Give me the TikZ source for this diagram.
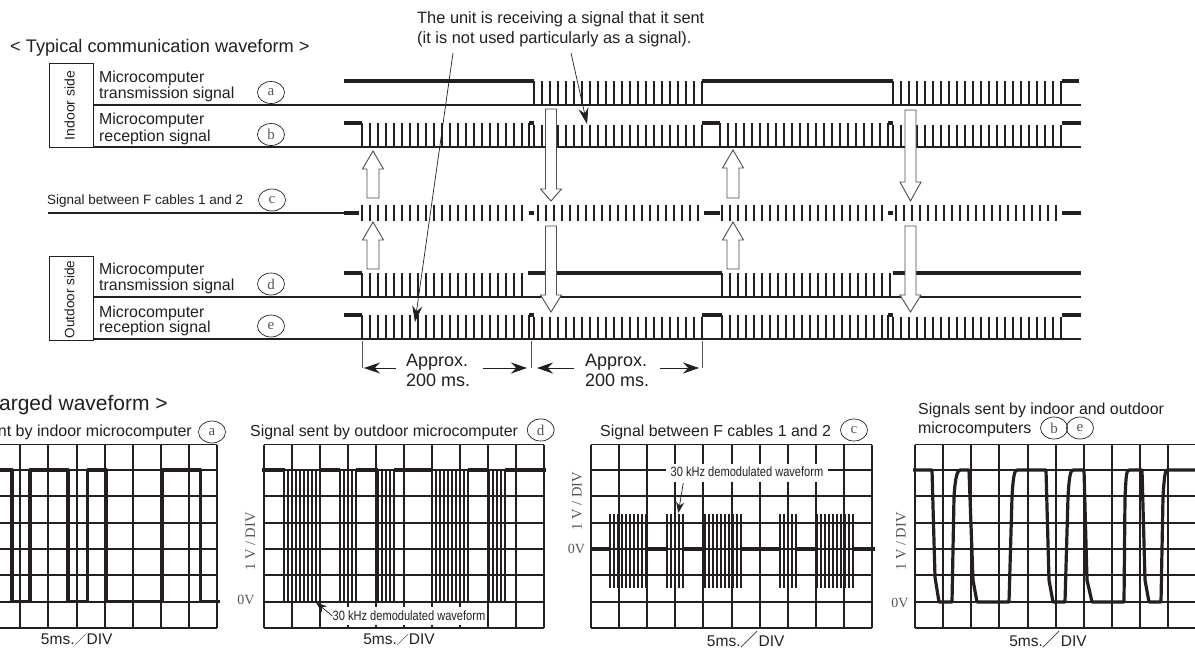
\documentclass[tikz,border=0pt]{standalone}
\usepackage{fontspec}
\setmainfont{Liberation Sans}
\newfontfamily\serifface{Liberation Serif}
\newfontfamily\narrowface[FakeStretch=0.82]{Liberation Sans}
\newfontfamily\cjkface{Noto Sans CJK JP}
\usetikzlibrary{arrows.meta,shapes.geometric}
\definecolor{ink}{HTML}{231F20}
\definecolor{dim}{HTML}{555555}
\tikzset{
  txt/.style={inner sep=0pt,text=ink,font=\fontsize{#1}{#1}\selectfont},
  txt/.default=15.9,
  roundlabel/.style={ellipse,draw=ink,line width=.7pt,minimum width=27pt,minimum height=22pt,inner sep=0pt,text=dim,font=\serifface\fontsize{15}{15}\selectfont},
  baseline wire/.style={draw=ink,line width=1.9pt},
  high wire/.style={draw=ink,line width=3.3pt},
  tick/.style={draw=ink,line width=1.7pt},
  blockarrow/.style={draw=ink!80,line width=.9pt,fill=white,line join=miter},
  leader/.style={draw=ink,line width=.7pt,-{Stealth[length=16pt,width=10pt]}},
  dimline/.style={draw=ink,line width=.8pt,-{Stealth[length=16pt,width=11pt]}},
  dimtick/.style={draw=dim,line width=.9pt},
  gridline/.style={draw=ink,line width=1.9pt},
  scopewire/.style={draw=ink,line width=3.2pt,line join=round},
  burst/.style={draw=ink,line width=1.5pt},
  volt/.style={inner sep=0pt,text=dim,font=\serifface\fontsize{14.5}{14.5}\selectfont},
  zerov/.style={inner sep=0pt,text=dim,font=\serifface\fontsize{14}{14}\selectfont},
  small/.style={inner sep=0pt,text=ink,font=\narrowface\fontsize{13.5}{13.5}\selectfont},
}
% tall pulses: x0, x1, y top, y bottom
\newcommand\pulserun[4]{\pgfmathsetmacro\nxa{#1+8}\foreach \xx in {#1,\nxa,...,#2} \draw[tick] (\xx,#3)--(\xx,#4);}
% burst: x0, x1, step, top, bottom
\newcommand\burstrun[5]{\pgfmathsetmacro\nxb{#1+#3}\foreach \xx in {#1,\nxb,...,#2} \draw[burst] (\xx,#4)--(\xx,#5);}
% block arrows: centre x, tail y, head base y, tip y, half shaft, half head
\newcommand\blockarrow[6]{\draw[blockarrow] (#1-#5,#2)--(#1-#5,#3)--(#1-#6,#3)--(#1,#4)--(#1+#6,#3)--(#1+#5,#3)--(#1+#5,#2)--cycle;}
% scope grid: list of x, x left, x right
\newcommand\scopegrid[3]{%
  \foreach \yy in {470,496.3,522.6,549,575.3,601.7} \draw[gridline] (#2,\yy)--(#3,\yy);
  \draw[gridline] (#2,444.5)--(#3,444.5);
  \draw[gridline] (#2,628)--(#3,628);
  \foreach \xx in {#1} \draw[gridline] (\xx,444.5)--(\xx,628);}
\newcommand\fullslash[1][12]{{\cjkface\fontsize{#1}{#1}\selectfont ／}}
\begin{document}
\begin{tikzpicture}[x=1pt,y=-1pt]
\useasboundingbox (0,0) rectangle (1195,651);
\fill[white] (0,0) rectangle (1195,651);

% ---- top annotation
\node[txt=16.4,anchor=west] (note1) at (417,19) {The unit is receiving a signal that it sent};
\node[txt=16.4,anchor=west] (note2) at (417,39) {(it is not used particularly as a signal).};
\node[txt=18.2,anchor=west] (title1) at (10,47.5) {< Typical communication waveform >};

% ---- side boxes
\node[draw=ink,line width=.9pt,minimum width=44pt,minimum height=84pt,inner sep=0pt,anchor=north west] (indoorbox) at (49,63) {};
\node[txt=14,rotate=90] (indoor) at (69.5,105.5) {Indoor side};
\node[draw=ink,line width=.9pt,minimum width=44pt,minimum height=84pt,inner sep=0pt,anchor=north west] (outdoorbox) at (49,255.5) {};
\node[txt=13.6,rotate=90] (outdoor) at (69.5,299.5) {Outdoor side};

% ---- row labels
\node[txt,anchor=west] (la1) at (99,78) {Microcomputer};
\node[txt,anchor=west] (la2) at (99,94.5) {transmission signal};
\node[txt,anchor=west] (lb1) at (99,120.5) {Microcomputer};
\node[txt,anchor=west] (lb2) at (99,137) {reception signal};
\node[txt=13.5,anchor=west] (lc) at (47,201) {Signal between F cables 1 and 2};
\node[txt,anchor=west] (ld1) at (99,270) {Microcomputer};
\node[txt,anchor=west] (ld2) at (99,286) {transmission signal};
\node[txt,anchor=west] (le1) at (99,313) {Microcomputer};
\node[txt,anchor=west] (le2) at (99,328.5) {reception signal};
\node[roundlabel] (ca) at (271,92.5) {a};
\node[roundlabel] (cb) at (271,134.5) {b};
\node[roundlabel] (cc) at (272,200) {c};
\node[roundlabel] (cd) at (271,284) {d};
\node[roundlabel] (ce) at (271,326) {e};

% ---- row a
\draw[baseline wire] (93,105)--(1081,105);
\draw[high wire] (344,81)--(534,81);
\pulserun{534}{702}{81}{105}
\draw[high wire] (702,81)--(893,81);
\pulserun{893}{1062}{81}{105}
\draw[high wire] (1062,81)--(1079,81);
% ---- row b
\draw[baseline wire] (93,147)--(1081,147);
\draw[high wire] (344,123)--(362,123);
\pulserun{362}{526}{123}{147}
\draw[high wire] (529,123)--(534,123);
\draw[tick] (529,123)--(529,147);
\pulserun{534}{702}{125}{147}
\draw[high wire] (702,123)--(720,123);
\pulserun{720}{885}{123}{147}
\draw[high wire] (888,123)--(893,123);
\draw[tick] (888,123)--(888,147);
\pulserun{893}{1062}{125}{147}
\draw[high wire] (1062,123)--(1081,123);
% ---- row c
\draw[baseline wire] (48,213)--(345,213);
\draw[high wire] (344,213)--(359,213);
\pulserun{362}{526}{205}{221}
\draw[high wire] (529,213)--(534,213);
\pulserun{538}{700}{205}{221}
\draw[high wire] (704,213)--(720,213);
\pulserun{722}{885}{205}{221}
\draw[high wire] (888,213)--(893,213);
\pulserun{896}{1060}{205}{221}
\draw[high wire] (1062,213)--(1081,213);
% ---- row d
\draw[baseline wire] (93,297)--(1081,297);
\draw[high wire] (344,273)--(362,273);
\pulserun{362}{528}{273}{297}
\draw[high wire] (528,273)--(722,273);
\pulserun{722}{893}{273}{297}
\draw[high wire] (893,273)--(1081,273);
% ---- row e
\draw[baseline wire] (93,339)--(1081,339);
\draw[high wire] (344,315)--(362,315);
\pulserun{362}{526}{315}{339}
\draw[high wire] (529,315)--(534,315);
\draw[tick] (529,315)--(529,339);
\pulserun{534}{702}{317}{339}
\draw[high wire] (702,315)--(722,315);
\pulserun{722}{885}{315}{339}
\draw[high wire] (888,315)--(893,315);
\draw[tick] (888,315)--(888,339);
\pulserun{893}{1062}{317}{339}
\draw[high wire] (1062,315)--(1081,315);

% ---- block arrows
\blockarrow{373}{198}{169}{151}{6}{10.5}
\blockarrow{373}{269}{240}{222}{6}{10.5}
\blockarrow{551}{109}{189}{201}{5.5}{10.5}
\blockarrow{551}{226}{295}{312}{5.5}{10.5}
\blockarrow{733}{198}{168}{150}{6}{10.5}
\blockarrow{733}{269}{240}{222}{6}{10.5}
\blockarrow{910.5}{110}{182}{201}{5.5}{10.5}
\blockarrow{910.5}{226}{295}{312}{5.5}{10.5}

% ---- leaders
\coordinate (leadA) at (453,53);
\coordinate (tipA) at (415,322);
\coordinate (leadB) at (571,53);
\coordinate (tipB) at (587,124);
\draw[leader] (leadA)--(tipA);
\draw[leader] (leadB)--(tipB);

% ---- approx dimensions
\coordinate (d1) at (362,341); \coordinate (d1b) at (362,368);
\coordinate (d2) at (531,341); \coordinate (d2b) at (531,368);
\coordinate (d3) at (702,341); \coordinate (d3b) at (702,368);
\draw[dimtick] (d1)--(d1b); \draw[dimtick] (d2)--(d2b); \draw[dimtick] (d3)--(d3b);
\node[txt=18,anchor=west] (ap1) at (406,362) {Approx.};
\node[txt=18,anchor=west] (ms1) at (406,380) {200 ms.};
\node[txt=18,anchor=west] (ap2) at (585,362) {Approx.};
\node[txt=18,anchor=west] (ms2) at (585,380) {200 ms.};
\coordinate (a1) at (396,368); \coordinate (a1t) at (364,368);
\coordinate (a2) at (483,368); \coordinate (a2t) at (527,368);
\coordinate (a3) at (574,368); \coordinate (a3t) at (537,368);
\coordinate (a4) at (660,368); \coordinate (a4t) at (699,368);
\draw[dimline] (a1)--(a1t); \draw[dimline] (a2)--(a2t);
\draw[dimline] (a3)--(a3t); \draw[dimline] (a4)--(a4t);

% ---- lower heading
\node[txt=21,anchor=east] (title2) at (168,405) {arged waveform >};

% ---- panel 1
\node[txt=16,anchor=east] (p1t) at (192,432) {nt by indoor microcomputer};
\node[roundlabel] (p1c) at (212,432) {a};
\scopegrid{20,48.3,76.6,105,132.8,160.8,189,217.3}{0}{217.3}
\draw[scopewire] (0,470)--(12,470)--(12,601.7)--(30,601.7)--(30,470)--(68,470)--(68,601.7)--(87.7,601.7)--(87.7,470)--(106.7,470)--(106.7,601.7)--(162,601.7)--(162,470)--(200.7,470)--(200.7,601.7)--(220,601.7);
\node[txt=15.5,anchor=center] (p1x) at (76.7,640) {5ms.\fullslash DIV};

% ---- panel 2
\node[txt,anchor=west] (p2t) at (250,432) {Signal sent by outdoor microcomputer};
\node[roundlabel] (p2c) at (540.7,430) {d};
\scopegrid{264,292,320,348,376,404,432,460,488,516.3,544.3}{264}{544.3}
\node[fill=white,inner sep=0pt,minimum width=164pt,minimum height=18pt] (p2w) at (405,616) {};
\node[small] (p2l) at (409,616) {30 kHz demodulated waveform};
\draw[scopewire] (262,470)--(285,470);\draw[scopewire] (319,470)--(340,470);\draw[scopewire] (356,470)--(378,470);\draw[scopewire] (394,470)--(432,470);\draw[scopewire] (468,470)--(488,470);\draw[scopewire] (505,470)--(546,470);
\burstrun{284}{319}{4}{470}{602}
\burstrun{340}{356}{4}{470}{602}
\burstrun{378}{394}{4}{470}{602}
\burstrun{432}{468}{4}{470}{602}
\burstrun{489}{505}{4}{470}{602}
\coordinate (p2tip) at (316,602.5);
\draw[leader,-{Stealth[length=11pt,width=8pt]}] (p2l.west)--(p2tip);
\node[volt,rotate=90] (p2v) at (250.5,541.5) {1~V~/~DIV};
\node[zerov] (p2z) at (246,600) {0V};
\node[txt=15.5,anchor=center] (p2x) at (399,640) {5ms.\fullslash DIV};

% ---- panel 3
\node[txt,anchor=west] (p3t) at (600,432) {Signal between F cables 1 and 2};
\node[roundlabel] (p3c) at (854,430) {c};
\scopegrid{590.7,619,647,675.3,703.3,731.7,760,788,816,844,872.3}{590.7}{872.3}
\node[fill=white,inner sep=0pt,minimum width=162pt,minimum height=18pt] (p3w) at (747,472.5) {};
\node[small] (p3l) at (747,472) {30 kHz demodulated waveform};
\draw[scopewire] (592,549)--(610,549);\draw[scopewire] (646,549)--(667,549);\draw[scopewire] (684,549)--(704,549);\draw[scopewire] (741,549)--(779,549);\draw[scopewire] (797,549)--(817,549);\draw[scopewire] (853,549)--(875,549);
\tikzset{burst/.append style={line width=1.7pt}}
\burstrun{610}{646}{4}{513.5}{587.5}
\burstrun{667}{684}{4}{513.5}{587.5}
\burstrun{705}{741}{4}{513.5}{587.5}
\burstrun{780}{797}{4}{513.5}{587.5}
\burstrun{817}{853}{4}{513.5}{587.5}
\coordinate (p3from) at (683.3,483); \coordinate (p3tip) at (678.3,513);
\draw[leader,-{Stealth[length=11pt,width=8pt]}] (p3from)--(p3tip);
\node[volt,rotate=90] (p3v) at (577,501) {1~V~/~DIV};
\node[zerov] (p3z) at (576.5,549) {0V};
\node[txt=15.5,anchor=center] (p3x) at (745.7,640) {5ms.\fullslash[18]DIV};

% ---- panel 4
\node[txt,anchor=west] (p4t) at (918,410) {Signals sent by indoor and outdoor};
\node[txt,anchor=west] (p4u) at (918,429) {microcomputers};
\node[roundlabel] (p4b) at (1054,428) {b};
\node[roundlabel] (p4e) at (1080,428) {e};
\scopegrid{915,943,971,999.3,1027.7,1056,1084,1112.3,1140.3,1168.3}{915}{1195}
\draw[scopewire] (913,470)--(932,470)--(935,577)--(939,602)--(952,602)--(954,497) .. controls (955,480) and (957,470) .. (960,470)--(969,470)--(973,580)--(977,602)--(1009,602)--(1012,497) .. controls (1013,480) and (1014,470) .. (1017,470)--(1046,470)--(1049,580)--(1053,602)--(1065,602)--(1068,497) .. controls (1069,480) and (1070,470) .. (1073,470)--(1084,470)--(1087,580)--(1092,602)--(1124,602)--(1125,497) .. controls (1126,480) and (1126,470) .. (1129,470)--(1142,470)--(1145,580)--(1149,602)--(1161,602)--(1163,497) .. controls (1164,480) and (1165,470) .. (1167,470)--(1195,470);
\node[volt,rotate=90] (p4v) at (901,541.5) {1~V~/~DIV};
\node[zerov] (p4z) at (900,603) {0V};
\node[txt=15.5,anchor=center] (p4x) at (1048,640) {5ms.\fullslash[18]DIV};
\end{tikzpicture}
\end{document}
